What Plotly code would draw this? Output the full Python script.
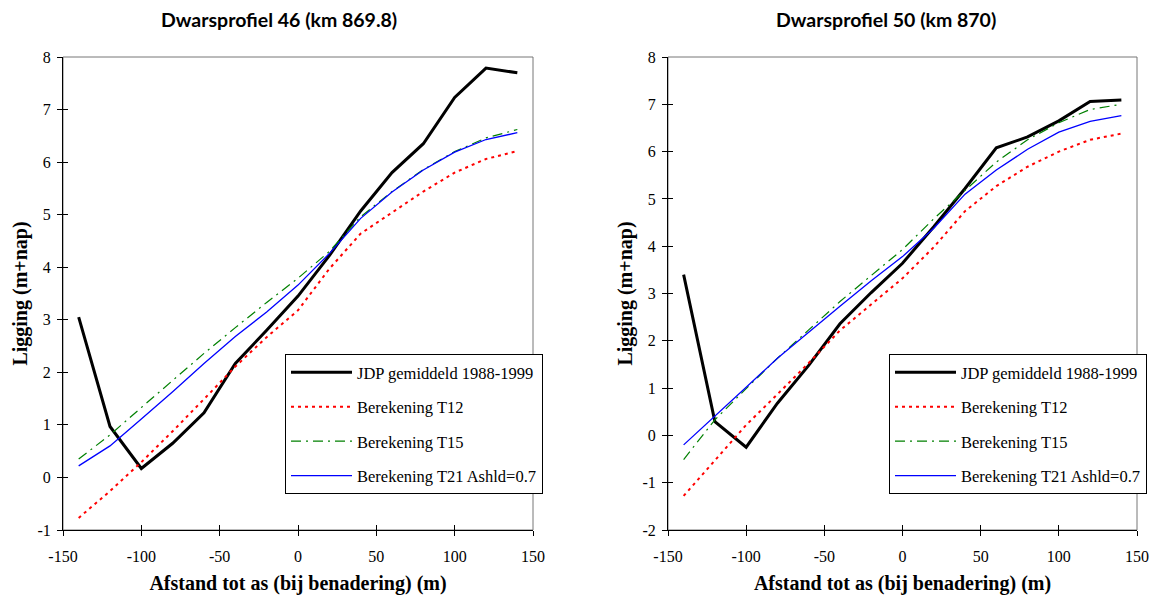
import plotly.graph_objects as go

# ---------------- data ----------------
x_pts = [-140, -120, -100, -80, -60, -40, -20, 0, 20, 40, 60, 80, 100, 120, 140]

series_names = ["JDP gemiddeld 1988-1999", "Berekening T12", "Berekening T15", "Berekening T21 Ashld=0.7"]

# Dwarsprofiel 46 (km 869.8)
p46_jdp = [3.05, 0.97, 0.17, 0.65, 1.23, 2.17, 2.80, 3.45, 4.22, 5.07, 5.80, 6.35, 7.23, 7.79, 7.70]
p46_t12 = [-0.77, -0.26, 0.29, 0.88, 1.49, 2.11, 2.67, 3.18, 3.97, 4.64, 5.04, 5.44, 5.80, 6.06, 6.21]
p46_t15 = [0.35, 0.81, 1.33, 1.85, 2.36, 2.85, 3.33, 3.79, 4.30, 4.96, 5.44, 5.86, 6.20, 6.46, 6.62]
p46_t21 = [0.22, 0.60, 1.11, 1.63, 2.17, 2.68, 3.15, 3.66, 4.26, 4.93, 5.43, 5.85, 6.19, 6.43, 6.56]

# Dwarsprofiel 50 (km 870)
p50_jdp = [3.40, 0.29, -0.25, 0.68, 1.48, 2.36, 3.02, 3.64, 4.41, 5.22, 6.08, 6.31, 6.65, 7.06, 7.09]
p50_t12 = [-1.28, -0.52, 0.22, 0.87, 1.53, 2.22, 2.76, 3.32, 3.98, 4.74, 5.27, 5.68, 6.00, 6.25, 6.38]
p50_t15 = [-0.51, 0.33, 0.99, 1.63, 2.23, 2.83, 3.38, 3.93, 4.58, 5.18, 5.78, 6.25, 6.61, 6.89, 7.00]
p50_t21 = [-0.20, 0.42, 1.02, 1.63, 2.19, 2.73, 3.27, 3.78, 4.38, 5.10, 5.61, 6.05, 6.41, 6.64, 6.76]

titles = ["Dwarsprofiel 46 (km 869.8)", "Dwarsprofiel 50 (km 870)"]
x_title = "Afstand tot as (bij benadering) (m)"
y_title = "Ligging (m+nap)"
x_tickvals = [-150, -100, -50, 0, 50, 100, 150]
x_ticktext = ["-150", "-100", "-50", "0", "50", "100", "150"]
y_tickvals = [[-1, 0, 1, 2, 3, 4, 5, 6, 7, 8], [-2, -1, 0, 1, 2, 3, 4, 5, 6, 7, 8]]
y_ticktext = [["-1", "0", "1", "2", "3", "4", "5", "6", "7", "8"],
              ["-2", "-1", "0", "1", "2", "3", "4", "5", "6", "7", "8"]]
x_range = [-150, 150]
y_ranges = [[-1, 8], [-2, 8]]

# ---------------- style ----------------
W, H = 1153, 595
serif = "Liberation Serif"
styles = [
    dict(color="#000000", width=3, dash="solid"),
    dict(color="#FF0000", width=2, dash="3px,4px"),
    dict(color="#008000", width=1.2, dash="10px,5px,2px,5px"),
    dict(color="#0000FF", width=1.3, dash="solid"),
]

fig = go.Figure()
panels = [
    ([p46_jdp, p46_t12, p46_t15, p46_t21], "x", "y", "legend"),
    ([p50_jdp, p50_t12, p50_t15, p50_t21], "x2", "y2", "legend2"),
]
for pi, (data, xa, ya, lg) in enumerate(panels):
    for si, (vals, name, st) in enumerate(zip(data, series_names, styles)):
        fig.add_trace(go.Scatter(
            x=x_pts, y=vals, name=name, mode="lines",
            line=dict(color=st["color"], width=st["width"], dash=st["dash"]),
            xaxis=xa, yaxis=ya, legend=lg, legendgroup=f"{lg}_{si}",
            showlegend=True,
        ))

# empty traces so the overlay (inside-tick) axes get drawn
for ov_x, ov_y in (("x3", "y3"), ("x4", "y4")):
    fig.add_trace(go.Scatter(x=[], y=[], xaxis=ov_x, yaxis=ov_y, showlegend=False, hoverinfo="skip"))

x_domains = [[63 / W, 533 / W], [668 / W, 1137 / W]]
y_domain = [1 - 530 / H, 1 - 57 / H]

axis_common = dict(
    showline=True, linecolor="black", linewidth=1,
    ticks="outside", ticklen=5, tickcolor="black", tickwidth=1,
    showgrid=False, zeroline=False, automargin=False,
)
overlay_common = dict(
    showline=False, ticks="inside", ticklen=5, tickcolor="black", tickwidth=1,
    showgrid=False, zeroline=False, showticklabels=False, automargin=False,
)

layout = dict(
    width=W, height=H,
    margin=dict(l=0, r=0, t=0, b=0, autoexpand=False),
    paper_bgcolor="white", plot_bgcolor="white",
    font=dict(family=serif, color="black"),
    showlegend=True,
)

tf = dict(family=serif, size=16, color="black")
for i in range(2):
    sx = "" if i == 0 else "2"
    ox = "3" if i == 0 else "4"
    layout["xaxis" + sx] = dict(
        axis_common, domain=x_domains[i], anchor="y" + sx, range=x_range,
        tickmode="array", tickvals=x_tickvals, ticktext=x_ticktext, tickfont=tf,
        ticklabelstandoff=7,
        title=dict(text=f"<b>{x_title}</b>", font=dict(family=serif, size=20, color="black"), standoff=15),
    )
    layout["yaxis" + sx] = dict(
        axis_common, domain=y_domain, anchor="x" + sx, range=y_ranges[i],
        tickmode="array", tickvals=y_tickvals[i], ticktext=y_ticktext[i], tickfont=tf,
        ticklabelstandoff=3,
        title=dict(text=f"<b>{y_title}</b>", font=dict(family=serif, size=20, color="black"), standoff=4),
    )
    layout["xaxis" + ox] = dict(
        overlay_common, overlaying="x" + sx, anchor="y" + sx, side="bottom", domain=x_domains[i],
        range=x_range, tickmode="array", tickvals=x_tickvals,
    )
    layout["yaxis" + ox] = dict(
        overlay_common, overlaying="y" + sx, anchor="x" + sx, side="left", domain=y_domain,
        range=y_ranges[i], tickmode="array", tickvals=y_tickvals[i],
    )

legend_common = dict(
    bgcolor="white", bordercolor="black", borderwidth=1,
    xanchor="left", yanchor="top", tracegroupgap=10,
    traceorder="grouped", itemwidth=61,
    font=dict(family=serif, size=16.5, color="black"),
)
layout["legend"] = dict(legend_common, x=285 / W, y=1 - 354 / H)
layout["legend2"] = dict(legend_common, x=889 / W, y=1 - 354 / H)

fig.update_layout(**layout)

for i in range(2):
    sx = "" if i == 0 else "2"
    fig.add_shape(type="rect", xref=f"x{sx} domain", yref=f"y{sx} domain",
                  x0=0, x1=1, y0=0, y1=1, line=dict(color="#777777", width=1),
                  layer="below")

title_x = [279 / W, 886 / W]
for i in range(2):
    fig.add_annotation(
        text=f"<b>{titles[i]}</b>", xref="paper", yref="paper",
        x=title_x[i], y=1 - 20 / H, xanchor="center", yanchor="middle",
        showarrow=False, font=dict(family="Lato", size=19.5, color="black"),
    )

fig.write_html("out.html")
